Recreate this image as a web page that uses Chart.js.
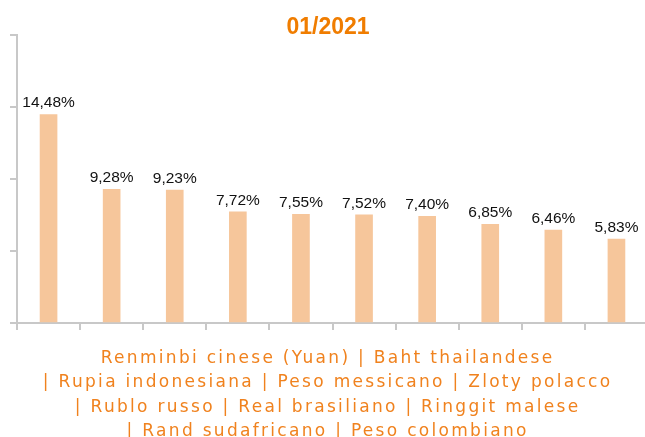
<!DOCTYPE html>
<html>
<head>
<meta charset="utf-8">
<script src="https://cdn.jsdelivr.net/npm/chart.js@4/dist/chart.umd.min.js"></script>
<style>
html,body{margin:0;padding:0;background:#fff;overflow:hidden;}
#wrap{width:650px;height:437px;position:relative;}
</style>
</head>
<body>
<div id="wrap"><canvas id="c" width="650" height="437"></canvas></div>
<script>
const categories = ["Renminbi cinese (Yuan)","Baht thailandese","Rupia indonesiana","Peso messicano","Zloty polacco","Rublo russo","Real brasiliano","Ringgit malese","Rand sudafricano","Peso colombiano"];
const values = [14.48, 9.28, 9.23, 7.72, 7.55, 7.52, 7.40, 6.85, 6.46, 5.83];
const chartTitle = "01/2021";
const axisTitleLines = [
  "Renminbi cinese (Yuan) | Baht thailandese",
  "| Rupia indonesiana | Peso messicano | Zloty polacco",
  "| Rublo russo | Real brasiliano | Ringgit malese",
  "| Rand sudafricano | Peso colombiano"
];
const yMin = 0, yMax = 20, yStep = 5;

const fmt = v => v.toFixed(2).replace('.', ',') + '%';

const decorations = {
  id: 'decorations',
  afterDatasetsDraw(chart) {
    const ctx = chart.ctx;
    const meta = chart.getDatasetMeta(0);
    ctx.save();
    // value labels
    ctx.font = '15.5px "Liberation Sans", Arial, sans-serif';
    ctx.fillStyle = '#111';
    ctx.textAlign = 'center';
    ctx.textBaseline = 'alphabetic';
    meta.data.forEach((bar, i) => {
      ctx.fillText(fmt(values[i]), bar.x, bar.y - 7);
    });
    // chart title
    ctx.font = 'bold 23px "Liberation Sans", Arial, sans-serif';
    ctx.fillStyle = '#f07d00';
    ctx.fillText(chartTitle, 328, 34);
    // axis title with letter spacing
    const sp = 2.3;
    ctx.font = '17px "DejaVu Sans", Verdana, sans-serif';
    ctx.fillStyle = '#f0821e';
    ctx.textAlign = 'left';
    if ('letterSpacing' in ctx) ctx.letterSpacing = sp + 'px';
    const baseY = chart.chartArea.bottom + 39.5;
    axisTitleLines.forEach((line, i) => {
      const w = ctx.measureText(line).width - sp;
      ctx.fillText(line, 326.5 - w / 2, baseY + i * 24.5);
    });
    ctx.restore();
  }
};

new Chart(document.getElementById('c'), {
  type: 'bar',
  data: {
    labels: categories,
    datasets: [{
      data: values,
      backgroundColor: '#f6c69b',
      barThickness: 17
    }]
  },
  options: {
    responsive: false,
    animation: false,
    layout: { padding: { left: 10, right: 2, top: 35, bottom: 107 } },
    plugins: {
      legend: { display: false },
      tooltip: { enabled: false },
      title: { display: false }
    },
    scales: {
      x: {
        grid: { display: true, drawOnChartArea: false, drawTicks: true, tickLength: 7, color: '#c8c8c8', lineWidth: 2, offset: true },
        border: { display: true, color: '#c8c8c8', width: 2 },
        ticks: { display: false }
      },
      y: {
        min: yMin, max: yMax,
        grid: { display: true, drawOnChartArea: false, drawTicks: true, tickLength: 7, color: '#c8c8c8', lineWidth: 2 },
        border: { display: true, color: '#c8c8c8', width: 2 },
        ticks: { display: false, stepSize: yStep }
      }
    }
  },
  plugins: [decorations]
});
</script>
</body>
</html>
